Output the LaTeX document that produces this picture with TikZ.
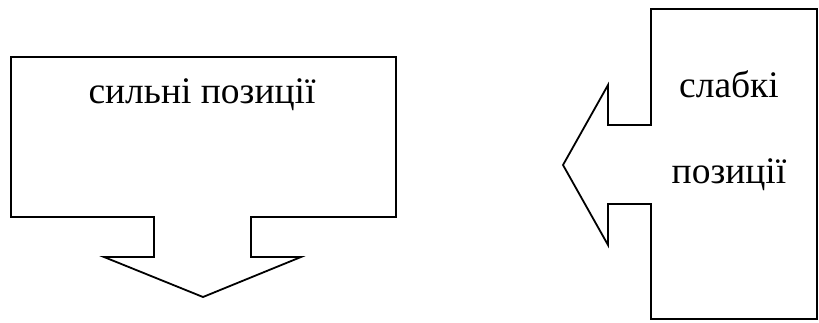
\documentclass[tikz,border=0pt]{standalone}
\usepackage{fontspec}
\setmainfont{Liberation Serif}
\usepackage{tikz}
\usetikzlibrary{positioning}

\begin{document}
\begin{tikzpicture}[
x=1pt,y=-1pt,
outline/.style={draw,line width=1.8pt,line join=miter},
every node/.style={font=\fontsize{37.5}{44}\selectfont,anchor=base,inner sep=0pt}
]
\useasboundingbox (0,0) rectangle (819,322);

% strong: box with arrow down
\draw[outline] (11,57) -- (396,57) -- (396,217) -- (251,217) -- (251,257)
  -- (301,257) -- (203,297) -- (104,257) -- (154,257) -- (154,217)
  -- (11,217) -- cycle;
\node (strong) at (202,103) {сильні позиції};

% weak: box with arrow left
\draw[outline] (651,9) -- (817,9) -- (817,319) -- (651,319) -- (651,204)
  -- (608,204) -- (608,245) -- (563,165) -- (608,85) -- (608,125)
  -- (651,125) -- cycle;
\node (weak) at (729,97) {слабкі};
\node[below=86pt of weak.base,anchor=base] (weakpos) {позиції};

\end{tikzpicture}
\end{document}
